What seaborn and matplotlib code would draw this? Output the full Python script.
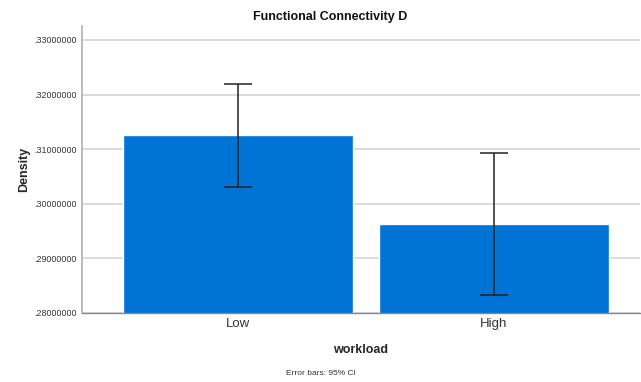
import numpy as np
import pandas as pd
import seaborn as sns
import matplotlib.pyplot as plt
from matplotlib.ticker import FuncFormatter

workload = ["Low", "High"]
density_mean = [0.31250, 0.29625]
ci_low = [0.30313, 0.28324]
ci_high = [0.32200, 0.30925]

df = pd.DataFrame({"workload": workload, "Density": density_mean})

sns.set_style("white")
plt.rcParams["font.family"] = ["Liberation Sans", "DejaVu Sans"]

fig = plt.figure(figsize=(6.41, 3.82), dpi=100)
ax = fig.add_axes([0.128, 0.181, 0.870, 0.751])

sns.barplot(data=df, x="workload", y="Density", order=workload,
            color="#0073D7", saturation=1, width=0.9, errorbar=None, ax=ax,
            zorder=2)

# precomputed 95% CI from the reference
means = np.array(density_mean)
yerr = [means - np.array(ci_low), np.array(ci_high) - means]
ax.errorbar(np.arange(len(workload)), means, yerr=yerr, fmt="none",
            ecolor="#222222", elinewidth=1.1, capsize=10.4, capthick=1.1,
            zorder=3)

ax.set_ylim(0.28, 0.33256)
ax.set_xlim(-0.61, 1.57)
ax.set_yticks([0.28, 0.29, 0.30, 0.31, 0.32, 0.33])
ax.yaxis.set_major_formatter(FuncFormatter(lambda v, p: ("%.8f" % v)[1:]))
ax.grid(axis="y", color="#d6d6d6", linewidth=1.2, zorder=0)
ax.set_axisbelow(True)

for s in ["top", "right"]:
    ax.spines[s].set_visible(False)
ax.spines["left"].set_color("#b0b0b0")
ax.spines["bottom"].set_color("#888888")
ax.spines["left"].set_linewidth(1.2)
ax.spines["bottom"].set_linewidth(1.0)
ax.tick_params(axis="y", length=0, labelsize=6.4, labelcolor="#333333", pad=4)
ax.tick_params(axis="x", length=0, labelsize=9.5, labelcolor="#333333", pad=4)

fig.text(0.515, 0.955, "Functional Connectivity D", ha="center", va="center",
         fontsize=9, fontweight="bold", color="#111111")
ax.set_ylabel("Density", fontsize=9, fontweight="bold", labelpad=3)
ax.set_xlabel("workload", fontsize=9, fontweight="bold", labelpad=10)

fig.text(0.5, 0.013, "Error bars: 95% CI", ha="center", va="bottom",
         fontsize=6, color="#333333")

fig.savefig("out.png", dpi=100)
